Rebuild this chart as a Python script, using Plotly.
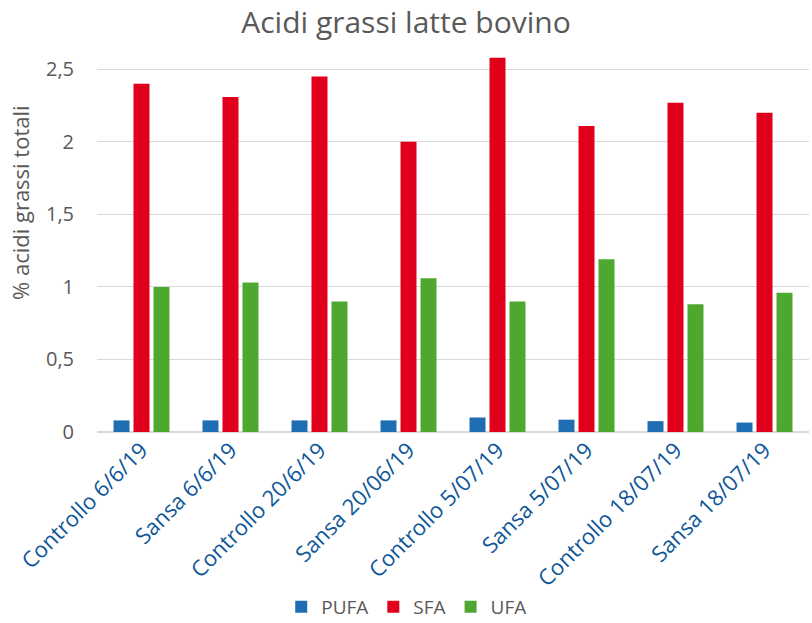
import plotly.graph_objects as go

categories = [
    "Controllo 6/6/19", "Sansa 6/6/19", "Controllo 20/6/19", "Sansa 20/06/19",
    "Controllo 5/07/19", "Sansa 5/07/19", "Controllo 18/07/19", "Sansa 18/07/19",
]
pufa = [0.08, 0.08, 0.08, 0.08, 0.10, 0.085, 0.075, 0.065]
sfa = [2.40, 2.31, 2.45, 2.00, 2.58, 2.11, 2.27, 2.20]
ufa = [1.00, 1.03, 0.90, 1.06, 0.90, 1.19, 0.88, 0.96]

tick_vals = [0, 0.5, 1, 1.5, 2, 2.5]
tick_text = ["0", "0,5", "1", "1,5", "2", "2,5"]

FONT = "Open Sans"
GRAY = "#595959"

fig = go.Figure()
for name, vals, color in [
    ("PUFA", pufa, "#1F6EB4"),
    ("SFA", sfa, "#E0001B"),
    ("UFA", ufa, "#4EA72E"),
]:
    fig.add_trace(go.Bar(
        x=categories, y=vals, name=name,
        marker=dict(color=color, line=dict(width=0)),
    ))

# vertical axis title placed as an annotation so it can sit above the axis centre
fig.add_annotation(
    text="% acidi grassi totali",
    xref="paper", yref="paper",
    x=(20 - 97) / 712, y=(432 - 203) / 383,
    xanchor="center", yanchor="middle",
    textangle=-90, showarrow=False,
    font=dict(size=22, color=GRAY, family=FONT),
)

fig.update_layout(
    width=812, height=623,
    margin=dict(l=97, r=3, t=49, b=191, autoexpand=False),
    paper_bgcolor="white", plot_bgcolor="white",
    barmode="group", bargap=0.326, bargroupgap=0.2,
    font=dict(family=FONT, color=GRAY),
    title=dict(
        text="Acidi grassi latte bovino",
        x=0.5, xanchor="center", y=1 - 22 / 623, yanchor="middle",
        font=dict(size=30, color=GRAY, family=FONT),
    ),
    xaxis=dict(
        tickangle=-45,
        tickfont=dict(size=22, color="#0E5699", family=FONT),
        showgrid=False, showline=False, ticks="",
        automargin=False,
    ),
    yaxis=dict(
        range=[0, 2.64],
        tickvals=tick_vals, ticktext=tick_text,
        tickfont=dict(size=20, color=GRAY, family=FONT),
        showgrid=True, gridcolor="#D9D9D9", gridwidth=1,
        zeroline=True, zerolinecolor="#D9D9D9", zerolinewidth=1.5,
        showline=False, ticks="",
        ticklabelstandoff=22,
        automargin=False,
    ),
    legend=dict(
        orientation="h", x=0.435, xanchor="center",
        y=(432 - 607) / 383, yanchor="middle",
        font=dict(size=19, color=GRAY, family=FONT),
        itemwidth=30, traceorder="normal",
    ),
)

fig.write_html("out.html")
